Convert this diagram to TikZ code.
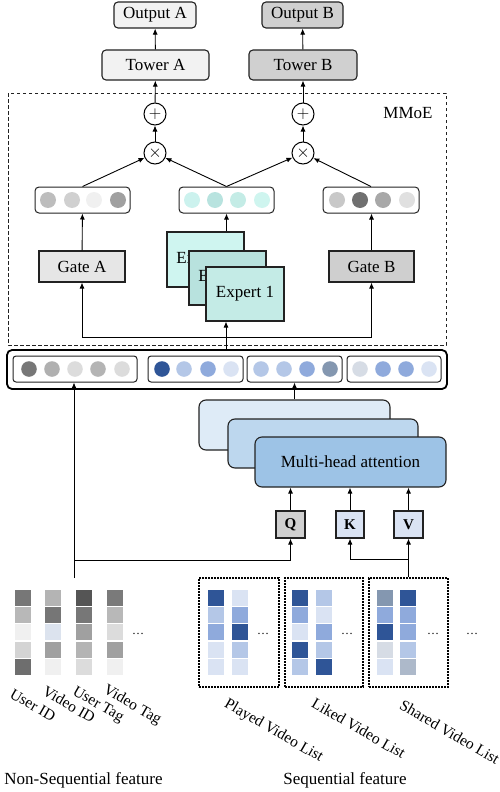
\documentclass[tikz,border=0pt]{standalone}
\usepackage{fontspec}
\setmainfont{Liberation Serif}
\usetikzlibrary{arrows.meta}
\definecolor{grayL}{HTML}{F2F2F2}
\definecolor{grayD}{HTML}{D0D0D0}
\definecolor{gateAc}{HTML}{E6E6E6}
\definecolor{gateBc}{HTML}{CFCFCF}
\definecolor{expC}{HTML}{CFF5F0}
\definecolor{expB}{HTML}{B8E2DE}
\definecolor{expA}{HTML}{C4EBE6}
\definecolor{attC}{HTML}{DEEBF7}
\definecolor{attB}{HTML}{BDD7EE}
\definecolor{attA}{HTML}{9DC3E6}
\definecolor{dB}{HTML}{2F5597}
\definecolor{mB}{HTML}{8FAADC}
\definecolor{lB}{HTML}{B4C7E7}
\definecolor{vB}{HTML}{DAE3F3}
\definecolor{gB}{HTML}{8497B0}
\definecolor{gBb}{HTML}{ADB9CA}
\definecolor{gBc}{HTML}{D6DCE5}
\definecolor{lineC}{HTML}{222222}
\begin{document}
\begin{tikzpicture}[x=1pt,y=-1pt,
  font=\fontsize{17}{20}\selectfont,
  arr/.style={-{Latex[length=6pt,width=5pt]},line width=0.9pt,draw=black},
  rbox/.style={draw=lineC,line width=1.1pt,rounded corners=4pt,inner sep=0pt},
  sbox/.style={draw=lineC,line width=1.1pt,inner sep=0pt},
  opcirc/.style={circle,draw=black,line width=1pt,minimum size=22pt,inner sep=0pt,fill=white},
  vecbox/.style={draw=lineC,line width=1pt,rounded corners=4pt,minimum height=26pt,inner sep=0pt},
  inbox/.style={draw=lineC,line width=1pt,rounded corners=3pt,minimum height=26pt,inner sep=0pt},
  attbox/.style={draw=lineC,line width=1.1pt,rounded corners=7pt,inner sep=0pt,minimum width=191pt,minimum height=50pt},
  qkv/.style={draw=lineC,line width=1.1pt,minimum width=29pt,minimum height=27pt,inner sep=0pt,font=\fontsize{15}{18}\selectfont\bfseries},
  dotbox/.style={draw=black,line width=1.7pt,dash pattern=on 1.6pt off 1.4pt,inner sep=0pt},
  flab/.style={rotate=-30,anchor=north west,inner sep=0pt,font=\fontsize{15.5}{18}\selectfont}
]
\useasboundingbox (0,0) rectangle (500,792);

% top
\node[rbox,fill=grayL,minimum width=82pt,minimum height=26pt] (outA) at (155,15) {Output A};
\node[rbox,fill=grayD,minimum width=81pt,minimum height=26pt] (outB) at (302.5,15) {Output B};
\node[rbox,fill=grayL,minimum width=107pt,minimum height=30pt] (towA) at (155.5,65) {Tower A};
\node[rbox,fill=grayD,minimum width=108pt,minimum height=30pt] (towB) at (303,65) {Tower B};

% MMoE box
\draw[draw=lineC,line width=1pt,dash pattern=on 3.5pt off 2.5pt] (8,93) rectangle (446,345);
\node (mmoe) at (408,113) {MMoE};

\node[opcirc] (plusA) at (155,114) {$+$};
\node[opcirc] (plusB) at (303,114) {$+$};
\node[opcirc] (timesA) at (155,153) {$\times$};
\node[opcirc] (timesB) at (303,153) {$\times$};

% vectors
\node[vecbox,minimum width=95pt] (vecA) at (82.5,200) {};
\node[vecbox,minimum width=95pt] (vecE) at (226.5,200) {};
\node[vecbox,minimum width=96pt] (vecB) at (371,200) {};
\fill[fill={rgb,255:red,189;green,189;blue,189}] (48,200) circle (8);
\fill[fill={rgb,255:red,208;green,208;blue,208}] (72,200) circle (8);
\fill[fill={rgb,255:red,240;green,240;blue,240}] (94,200) circle (8);
\fill[fill={rgb,255:red,160;green,160;blue,160}] (118,200) circle (8);
\fill[fill={rgb,255:red,204;green,242;blue,238}] (192,200) circle (8);
\fill[fill={rgb,255:red,184;green,227;blue,223}] (215,200) circle (8);
\fill[fill={rgb,255:red,196;green,236;blue,230}] (238,200) circle (8);
\fill[fill={rgb,255:red,207;green,245;blue,239}] (262,200) circle (8);
\fill[fill={rgb,255:red,200;green,200;blue,200}] (337,200) circle (8);
\fill[fill={rgb,255:red,112;green,112;blue,112}] (360,200) circle (8);
\fill[fill={rgb,255:red,168;green,168;blue,168}] (383,200) circle (8);
\fill[fill={rgb,255:red,224;green,224;blue,224}] (407,200) circle (8);

% gates and experts
\node[sbox,fill=gateAc,minimum width=86pt,minimum height=31pt] (gateA) at (82,266.5) {Gate A};
\node[sbox,fill=gateBc,minimum width=85pt,minimum height=31pt] (gateB) at (371.5,266.5) {Gate B};
\node[sbox,fill=expC,minimum width=77pt,minimum height=55pt] (exp3) at (205.5,259.5) {Expert 3};
\node[sbox,fill=expB,minimum width=77pt,minimum height=54pt] (exp2) at (227.5,278) {Expert 2};
\node[sbox,fill=expA,minimum width=78pt,minimum height=54pt] (exp1) at (245,294) {Expert 1};

% connectors in MMoE
\draw[arr] (towA) -- (outA);
\draw[arr] (towB) -- (outB);
\draw[arr] (plusA) -- (towA);
\draw[arr] (plusB) -- (towB);
\draw[arr] (timesA) -- (plusA);
\draw[arr] (timesB) -- (plusB);
\draw[arr] (vecA.north) -- (timesA);
\draw[arr] (vecE.north) -- (timesA);
\draw[arr] (vecE.north) -- (timesB);
\draw[arr] (vecB.north) -- (timesB);
\draw[arr] (gateA) -- (vecA);
\draw[arr] (gateB.north) -- (vecB.south -| gateB.north);
\draw[arr] (exp3.north -| vecE.south) -- (vecE.south);

% embedding bar
\draw[draw=black,line width=1.8pt,rounded corners=5pt] (7,350) rectangle (447,389);
\node[inbox,minimum width=124pt] (e1) at (75,369) {};
\node[inbox,minimum width=95pt] (e2) at (195.5,369) {};
\node[inbox,minimum width=95pt] (e3) at (294.5,369) {};
\node[inbox,minimum width=94pt] (e4) at (394,369) {};
\coordinate (emb) at (226,350);
\fill[fill={rgb,255:red,119;green,119;blue,119}] (29,369) circle (7.8);
\fill[fill={rgb,255:red,176;green,176;blue,176}] (52,369) circle (7.8);
\fill[fill={rgb,255:red,220;green,220;blue,220}] (75,369) circle (7.8);
\fill[fill={rgb,255:red,180;green,180;blue,180}] (98,369) circle (7.8);
\fill[fill={rgb,255:red,220;green,220;blue,220}] (122,369) circle (7.8);
\fill[dB] (162,369) circle (7.8);
\fill[lB] (184,369) circle (7.8);
\fill[mB] (208,369) circle (7.8);
\fill[vB] (231,369) circle (7.8);
\fill[lB] (261,369) circle (7.8);
\fill[lB] (284,369) circle (7.8);
\fill[mB] (307,369) circle (7.8);
\fill[gB] (330,369) circle (7.8);
\fill[gBc] (360,369) circle (7.8);
\fill[mB] (383,369) circle (7.8);
\fill[mB] (406,369) circle (7.8);
\fill[vB] (429,369) circle (7.8);

% bus
\coordinate (busM) at (226,337);
\draw[arr] (busM) -| (gateA.south);
\draw[arr] (busM) -| (gateB.south);
\draw[arr] (emb) -- (exp1.south -| emb);

% attention
\node[attbox,fill=attC] (att3) at (294.5,425) {};
\node[attbox,fill=attB,minimum width=190pt,minimum height=49pt] (att2) at (323,443.5) {};
\node[attbox,fill=attA] (att1) at (350.5,462) {Multi-head attention};
\draw[arr] (att3.north -| e3.south) -- (e3.south);

\node[qkv,fill=grayD] (Q) at (290.5,524.5) {Q};
\node[qkv,fill=vB,minimum width=28pt] (K) at (350,524.5) {K};
\node[qkv,fill=vB] (V) at (408.5,524.5) {V};
\draw[arr] (Q.north) -- (att1.south -| Q.north);
\draw[arr] (K.north) -- (att1.south -| K.north);
\draw[arr] (V.north) -- (att1.south -| V.north);

% features
\coordinate (nsTop) at (74,578);
\coordinate (j1) at (74,560);
\draw[arr] (nsTop) -- (e1.south -| nsTop);
\draw[arr] (j1) -| (Q.south);

\node[dotbox,minimum width=80pt,minimum height=109pt] (sb1) at (239,632.5) {};
\node[dotbox,minimum width=78pt,minimum height=109pt] (sb2) at (324,632.5) {};
\node[dotbox,minimum width=79pt,minimum height=109pt] (sb3) at (408.5,632.5) {};
\coordinate (j2) at (408.5,559);
\draw[arr] (sb3.north) -- (V.south);
\draw[arr] (j2) -| (K.south);

% squares
\foreach \x/\cols in {22.5/{777777,B8B8B8,F0F0F0,D4D4D4,6E6E6E},53/{B4B4B4,767676,DCE3EE,A0A0A0,F0F0F0},84/{555555,777777,A0A0A0,B4B4B4,DCDCDC},114.5/{7A7A7A,B8B8B8,DCDCDC,A0A0A0,F0F0F0},
  216/{2F5597,B4C7E7,8FAADC,DAE3F3,DAE3F3},240/{DAE3F3,8FAADC,2F5597,B4C7E7,DAE3F3},
  300/{2F5597,8FAADC,DAE3F3,2F5597,B4C7E7},324/{B4C7E7,DAE3F3,8FAADC,B4C7E7,2F5597},
  385/{8497B0,8FAADC,2F5597,D6DCE5,DAE3F3},408/{2F5597,8FAADC,8FAADC,B4C7E7,ADB9CA}}{
  \foreach \c [count=\i from 0] in \cols {
    \definecolor{sqc}{HTML}{\c}
    \fill[sqc] (\x-8,598+17.2*\i-8) rectangle (\x+8,598+17.2*\i+8);
  }
}
\foreach \x [count=\k] in {138,263,347,433,472}{
  \node[font=\fontsize{12}{14}\selectfont,inner sep=0pt] (dots\k) at (\x,634) {\dots};
}

% labels
\node[flab] (l1) at (14,688) {User ID};
\node[flab] (l2) at (47,685) {Video ID};
\node[flab] (l3) at (77,685) {User Tag};
\node[flab] (l4) at (108,683) {Video Tag};
\node[flab] (l5) at (229,697) {Played Video List};
\node[flab] (l6) at (316,697) {Liked Video List};
\node[flab] (l7) at (404,699) {Shared Video List};
\node (nsf) at (83.5,780) {Non-Sequential feature};
\node (sf) at (345,780) {Sequential feature};
\end{tikzpicture}
\end{document}
